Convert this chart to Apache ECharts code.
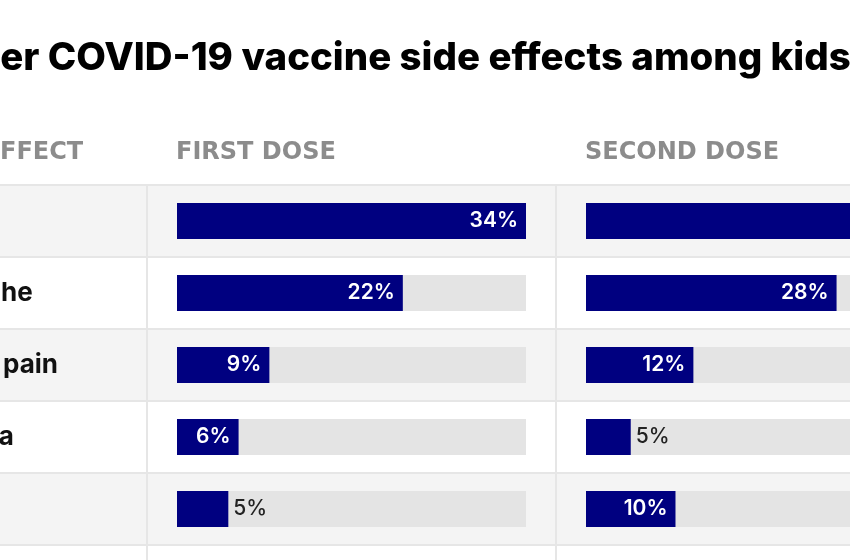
<!DOCTYPE html>
<html>
<head>
<meta charset="utf-8">
<script src="https://cdn.jsdelivr.net/npm/echarts@6/dist/echarts.min.js"></script>
<style>
html,body{margin:0;padding:0;background:#fff;}
#chart{width:850px;height:560px;}
</style>
</head>
<body>
<div id="chart"></div>
<script>
// ---- data ----
const titleText = 'Most common Pfizer COVID-19 vaccine side effects among kids 5-11';
const headers = ['SIDE EFFECT', 'FIRST DOSE', 'SECOND DOSE'];
const categories = ['Fatigue', 'Headache', 'Muscle pain', 'Diarrhea', 'Chills'];
const firstDose = [34, 22, 9, 6, 5];
const secondDose = [39, 28, 12, 5, 10];

// ---- layout / style ----
const FONT = 'Inter';
const titleFont = { size: 38.4, weight: '800' };
const headFont = { size: 24, weight: 'bold', family: 'DejaVu Sans' };
const rowFont = { size: 26, weight: 'bold' };
const colLeft = [147, 556];
const pad = 30, trackW = 349, gridTop = 185, rowH = 72;
const navy = '#000080', track = '#e4e4e4', stripe = '#f4f4f4', lineCol = '#e6e6e6';

const mctx = document.createElement('canvas').getContext('2d');
function measure(txt, size, weight, family) {
  mctx.font = weight + ' ' + size + 'px ' + (family || FONT);
  return mctx.measureText(txt).width;
}
const titleX = 1 - measure('Most common Pfiz', titleFont.size, titleFont.weight);
const headX0 = -measure('SIDE E', headFont.size, headFont.weight, headFont.family);
const rowLabelX = 3 - measure('Muscle ', rowFont.size, rowFont.weight);

const chart = echarts.init(document.getElementById('chart'), null, { renderer: 'canvas' });

const insideLabel = { show: true, position: 'insideRight', distance: 8, color: '#fff',
  fontFamily: FONT, fontWeight: 600, fontSize: 21, formatter: '{c}%' };
const outsideLabel = { show: true, position: 'right', distance: 5, color: '#222',
  fontFamily: FONT, fontWeight: 500, fontSize: 21, formatter: '{c}%' };
function toData(arr) {
  return arr.map(v => ({ value: v, label: v <= 5 ? outsideLabel : insideLabel }));
}
const nRows = categories.length;
const gridBase = { top: gridTop, height: rowH * nRows, containLabel: false, outerBoundsMode: 'none' };

const option = {
  animation: false,
  backgroundColor: '#fff',
  grid: [
    Object.assign({ left: colLeft[0] + pad, width: trackW }, gridBase),
    Object.assign({ left: colLeft[1] + pad, width: trackW }, gridBase),
    Object.assign({ left: rowLabelX, width: 850 - rowLabelX }, gridBase)
  ],
  xAxis: [
    { gridIndex: 0, type: 'value', min: 0, max: Math.max(...firstDose), show: false },
    { gridIndex: 1, type: 'value', min: 0, max: Math.max(...secondDose), show: false },
    { gridIndex: 2, type: 'value', min: 0, max: 1, show: false }
  ],
  yAxis: [
    { gridIndex: 0, type: 'category', inverse: true, data: categories, show: false },
    { gridIndex: 1, type: 'category', inverse: true, data: categories, show: false },
    { gridIndex: 2, type: 'category', inverse: true, data: categories,
      axisLine: { show: false }, axisTick: { show: false },
      axisLabel: { inside: true, margin: 0, align: 'left', color: '#111',
        fontFamily: FONT, fontWeight: rowFont.weight, fontSize: rowFont.size },
      splitLine: { show: true, lineStyle: { color: lineCol, width: 2 } },
      splitArea: { show: true, areaStyle: { color: [stripe, '#ffffff'] } } }
  ],
  series: [
    { type: 'bar', xAxisIndex: 0, yAxisIndex: 0, data: toData(firstDose), barWidth: 36,
      itemStyle: { color: navy }, showBackground: true, backgroundStyle: { color: track } },
    { type: 'bar', xAxisIndex: 1, yAxisIndex: 1, data: toData(secondDose), barWidth: 36,
      itemStyle: { color: navy }, showBackground: true, backgroundStyle: { color: track } }
  ],
  graphic: [
    { type: 'text', left: titleX, top: 39, style: { text: titleText, fill: '#000',
      font: titleFont.weight + ' ' + titleFont.size + 'px ' + FONT } },
    { type: 'text', left: headX0, top: 141, style: { text: headers[0], fill: '#8c8c8c',
      font: headFont.weight + ' ' + headFont.size + 'px ' + headFont.family } },
    { type: 'text', left: colLeft[0] + pad - 1, top: 141, style: { text: headers[1], fill: '#8c8c8c',
      font: headFont.weight + ' ' + headFont.size + 'px ' + headFont.family } },
    { type: 'text', left: colLeft[1] + pad - 1, top: 141, style: { text: headers[2], fill: '#8c8c8c',
      font: headFont.weight + ' ' + headFont.size + 'px ' + headFont.family } },
    { type: 'line', z: 100, shape: { x1: colLeft[0], y1: gridTop, x2: colLeft[0], y2: 560 },
      style: { stroke: lineCol, lineWidth: 2 } },
    { type: 'line', z: 100, shape: { x1: colLeft[1], y1: gridTop, x2: colLeft[1], y2: 560 },
      style: { stroke: lineCol, lineWidth: 2 } },
    { type: 'line', z: 100, shape: { x1: 0, y1: gridTop + rowH * nRows, x2: 850, y2: gridTop + rowH * nRows },
      style: { stroke: lineCol, lineWidth: 2 } }
  ]
};
chart.setOption(option);
</script>
</body>
</html>
